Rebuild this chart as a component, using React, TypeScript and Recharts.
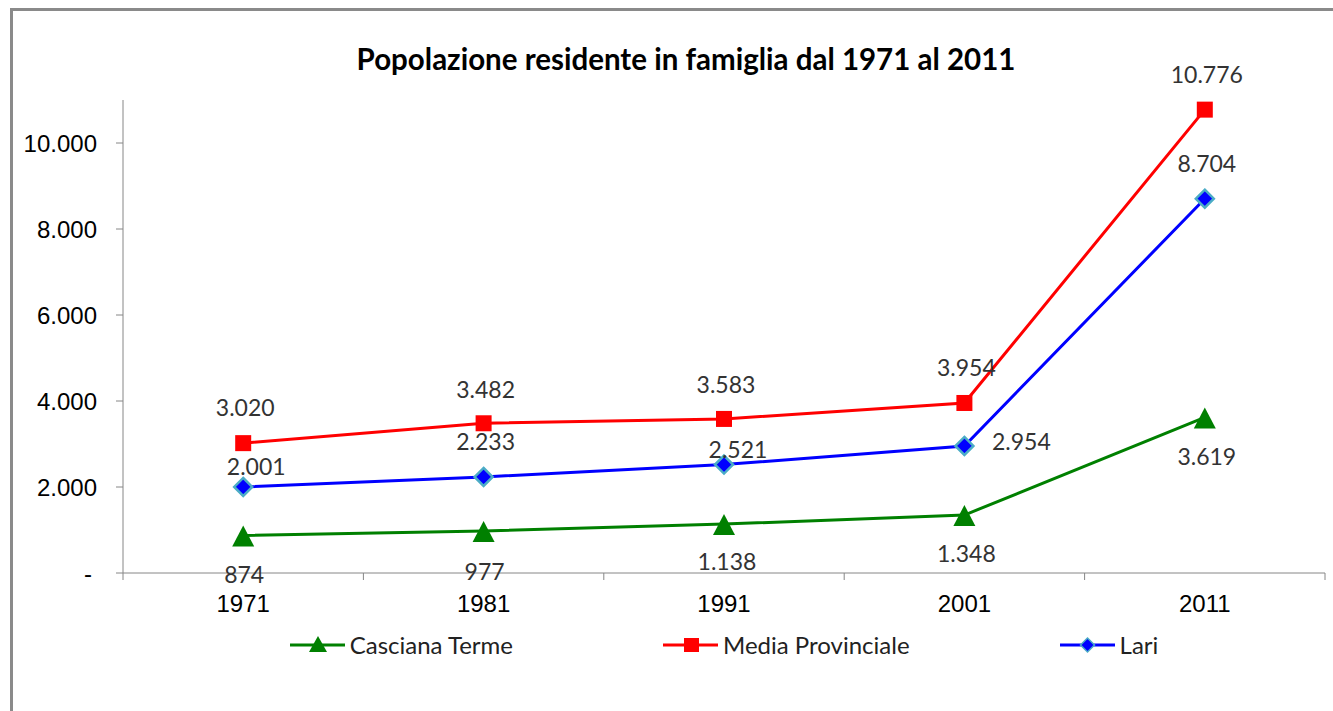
import React from 'react';
import { LineChart, Line, XAxis, YAxis, LabelList } from 'recharts';

const categories = ['1971', '1981', '1991', '2001', '2011'];
const cascianaTerme = [874, 977, 1138, 1348, 3619];
const mediaProvinciale = [3020, 3482, 3583, 3954, 10776];
const lari = [2001, 2233, 2521, 2954, 8704];
const yTicks = [0, 2000, 4000, 6000, 8000, 10000];
const seriesNames = ['Casciana Terme', 'Media Provinciale', 'Lari'];

const data = categories.map((c, i) => ({
  year: c,
  casciana: cascianaTerme[i],
  media: mediaProvinciale[i],
  lari: lari[i],
}));

// label placement (relative to point), layout only
const offsCasciana = [[1, 39], [1, 40], [3, 37], [2, 38], [2, 39]];
const offsMedia = [[2, -36], [2, -34], [2, -35], [2, -36], [2, -36]];
const offsLari = [[13, -21], [2, -36], [14, -16], [57, -5], [2, -36]];

const GREEN = '#008000';
const RED = '#FF0000';
const BLUE = '#0000FF';
const DIAMOND_EDGE = '#4BACC6';
const AXIS = '#868686';
const CAL = 'Lato, "Noto Sans", sans-serif';
const ARIAL = '"Liberation Sans", Arial, sans-serif';

const fmt = (v: number) =>
  v === 0 ? '-' : String(v).replace(/\B(?=(\d{3})+(?!\d))/g, '.');

const TICK_SIZE = 7;
const TICK_MARGIN = 2;

const makeLabel = (offs: number[][]) => (p: any) => {
  const o = offs[p.index] || [0, 0];
  return (
    <text
      x={p.x + o[0]}
      y={p.y + o[1]}
      textAnchor="middle"
      dominantBaseline="central"
      fontFamily={CAL}
      fontSize={23}
      fill="#333333"
    >
      {fmt(p.value)}
    </text>
  );
};

const Square = (p: any) => {
  if (p.cx == null || p.cy == null) return null;
  return <rect key={p.index} x={p.cx - 8} y={p.cy - 8} width={16} height={16} fill={RED} />;
};
const Triangle = (p: any) => {
  if (p.cx == null || p.cy == null) return null;
  const { cx, cy } = p;
  return (
    <polygon
      key={p.index}
      points={`${cx},${cy - 10} ${cx - 11},${cy + 11} ${cx + 11},${cy + 11}`}
      fill={GREEN}
    />
  );
};
const Diamond = (p: any) => {
  if (p.cx == null || p.cy == null) return null;
  const { cx, cy } = p;
  return (
    <polygon
      key={p.index}
      points={`${cx},${cy - 9} ${cx + 9},${cy} ${cx},${cy + 9} ${cx - 9},${cy}`}
      fill={BLUE}
      stroke={DIAMOND_EDGE}
      strokeWidth={2.5}
    />
  );
};

const XTick = (p: any) => {
  const { x, y, payload, index, visibleTicksCount, width } = p;
  const half = width / visibleTicksCount / 2;
  const axisY = y - TICK_SIZE - TICK_MARGIN;
  return (
    <g>
      <line x1={x - half} y1={axisY} x2={x - half} y2={axisY + TICK_SIZE} stroke={AXIS} />
      {index === visibleTicksCount - 1 && (
        <line x1={x + half} y1={axisY} x2={x + half} y2={axisY + TICK_SIZE} stroke={AXIS} />
      )}
      <text
        x={x}
        y={axisY + 30}
        textAnchor="middle"
        dominantBaseline="central"
        fontFamily={ARIAL}
        fontSize={24}
        fill="#000"
      >
        {payload.value}
      </text>
    </g>
  );
};

const YTick = (p: any) => {
  const { x, y, payload } = p;
  return (
    <text
      x={x}
      dx={payload.value === 0 ? -5 : 0}
      y={y}
      textAnchor="end"
      dominantBaseline="central"
      fontFamily={ARIAL}
      fontSize={24}
      fill="#000"
    >
      {fmt(payload.value)}
    </text>
  );
};

const LegendIcon = ({ kind, color }: { kind: string; color: string }) => (
  <svg width={55} height={22} style={{ display: 'block' }}>
    <line x1={0} y1={11} x2={55} y2={11} stroke={color} strokeWidth={3} />
    {kind === 'tri' && <polygon points="28,2 19,18 37,18" fill={color} />}
    {kind === 'sq' && <rect x={21} y={4} width={15} height={14} fill={color} />}
    {kind === 'dia' && (
      <polygon points="27.5,4 34.5,11 27.5,18 20.5,11" fill={color} stroke={DIAMOND_EDGE} strokeWidth={1.5} />
    )}
  </svg>
);

const legendItems = [
  { name: seriesNames[0], kind: 'tri', color: GREEN },
  { name: seriesNames[1], kind: 'sq', color: RED },
  { name: seriesNames[2], kind: 'dia', color: BLUE },
];

export default function App() {
  return (
    <div
      style={{
        position: 'fixed',
        left: 0,
        top: 0,
        width: 1333,
        height: 711,
        overflow: 'hidden',
        background: '#fff',
      }}
    >
      <div
        style={{
          position: 'absolute',
          left: 10,
          top: 8,
          width: 1350,
          height: 730,
          border: `3px solid #8a8a8a`,
          boxSizing: 'border-box',
        }}
      />
      <div
        style={{
          position: 'absolute',
          left: 0,
          width: 1372,
          top: 41,
          textAlign: 'center',
          fontFamily: CAL,
          fontWeight: 700,
          fontSize: 29.5,
          lineHeight: '36px',
          color: '#000',
        }}
      >
        Popolazione residente in famiglia dal 1971 al 2011
      </div>
      <div style={{ position: 'absolute', left: 0, top: 0 }}>
        <LineChart
          width={1333}
          height={711}
          data={data}
          margin={{ top: 100, right: 8, left: 0, bottom: 98 }}
        >
          <XAxis
            dataKey="year"
            scale="band"
            height={40}
            stroke={AXIS}
            tickLine={false}
            tickSize={TICK_SIZE}
            tickMargin={TICK_MARGIN}
            tick={XTick}
            interval={0}
          />
          <YAxis
            width={123}
            domain={[0, 11000]}
            ticks={yTicks}
            stroke={AXIS}
            tickSize={7}
            tickMargin={19}
            tick={YTick}
            interval={0}
          />
          <Line
            dataKey="casciana"
            name={seriesNames[0]}
            stroke={GREEN}
            strokeWidth={3}
            dot={Triangle}
            isAnimationActive={false}
          >
            <LabelList dataKey="casciana" content={makeLabel(offsCasciana)} />
          </Line>
          <Line
            dataKey="media"
            name={seriesNames[1]}
            stroke={RED}
            strokeWidth={3}
            dot={Square}
            isAnimationActive={false}
          >
            <LabelList dataKey="media" content={makeLabel(offsMedia)} />
          </Line>
          <Line
            dataKey="lari"
            name={seriesNames[2]}
            stroke={BLUE}
            strokeWidth={3}
            dot={Diamond}
            isAnimationActive={false}
          >
            <LabelList dataKey="lari" content={makeLabel(offsLari)} />
          </Line>
        </LineChart>
      </div>
      <div
        style={{
          position: 'absolute',
          left: 123,
          width: 1202,
          top: 632,
          display: 'flex',
          justifyContent: 'center',
          gap: 150,
          fontFamily: CAL,
          fontSize: 24,
          color: '#222',
        }}
      >
        {legendItems.map((it) => (
          <div key={it.name} style={{ display: 'flex', alignItems: 'center', gap: 5, lineHeight: '26px' }}>
            <LegendIcon kind={it.kind} color={it.color} />
            <span>{it.name}</span>
          </div>
        ))}
      </div>
    </div>
  );
}
